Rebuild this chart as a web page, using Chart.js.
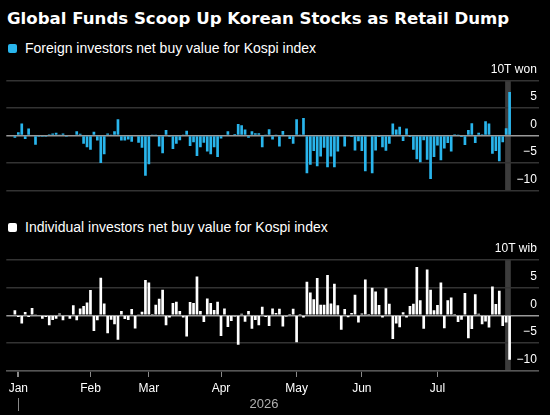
<!DOCTYPE html>
<html lang="en">
<head>
<meta charset="UTF-8">
<title>Global Funds Scoop Up Korean Stocks as Retail Dump</title>
<script src="https://cdn.jsdelivr.net/npm/chart.js@4.4.1/dist/chart.umd.min.js"></script>
<style>
    body { margin: 0; background: #000; width: 550px; height: 415px; overflow: hidden; position: relative;
           font-family: "Liberation Sans", Arial, sans-serif; color: #fff; }
    .title { position: absolute; left: 7px; top: 9px; font-family: "DejaVu Sans", sans-serif; font-weight: bold;
             font-size: 16.6px; line-height: 20px; white-space: nowrap; }
    .swatch { position: absolute; left: 8px; width: 9px; height: 9px; border-radius: 2px; }
    .legend { position: absolute; left: 25px; font-size: 14px; line-height: 16px; white-space: nowrap; }
    canvas { position: absolute; left: 0; }
</style>
</head>
<body>

<div class="title">Global Funds Scoop Up Korean Stocks as Retail Dump</div>

<div class="swatch" style="top: 44px; background: #29b5ec;"></div>
<div class="legend" style="top: 40px;">Foreign investors net buy value for Kospi index</div>
<canvas id="foreignChart" width="550" height="135" style="top: 60px;"></canvas>

<div class="swatch" style="top: 223px; background: #fff;"></div>
<div class="legend" style="top: 219px;">Individual investors net buy value for Kospi index</div>
<canvas id="individualChart" width="550" height="175" style="top: 240px;"></canvas>

<script>
    // Trading days shown on the x axis (a few empty slots before and after the data)
    const categories = [
        '2025-12-26', '2025-12-29', '2025-12-30',
        '2026-01-02', '2026-01-05', '2026-01-06', '2026-01-07', '2026-01-08', '2026-01-09', '2026-01-12',
        '2026-01-13', '2026-01-14', '2026-01-15', '2026-01-16', '2026-01-19', '2026-01-20', '2026-01-21',
        '2026-01-22', '2026-01-23', '2026-01-26', '2026-01-27', '2026-01-28', '2026-01-29', '2026-01-30',
        '2026-02-02', '2026-02-03', '2026-02-04', '2026-02-05', '2026-02-06', '2026-02-09', '2026-02-10',
        '2026-02-11', '2026-02-12', '2026-02-13', '2026-02-19', '2026-02-20', '2026-02-23', '2026-02-24',
        '2026-02-25', '2026-02-26', '2026-02-27',
        '2026-03-03', '2026-03-04', '2026-03-05', '2026-03-06', '2026-03-09', '2026-03-10', '2026-03-11',
        '2026-03-12', '2026-03-13', '2026-03-16', '2026-03-17', '2026-03-18', '2026-03-19', '2026-03-20',
        '2026-03-23', '2026-03-24', '2026-03-25', '2026-03-26', '2026-03-27', '2026-03-30', '2026-03-31',
        '2026-04-01', '2026-04-02', '2026-04-03', '2026-04-06', '2026-04-07', '2026-04-08', '2026-04-09',
        '2026-04-10', '2026-04-13', '2026-04-14', '2026-04-15', '2026-04-16', '2026-04-17', '2026-04-20',
        '2026-04-21', '2026-04-22', '2026-04-23', '2026-04-24', '2026-04-27', '2026-04-28', '2026-04-29',
        '2026-04-30',
        '2026-05-01', '2026-05-04', '2026-05-06', '2026-05-07', '2026-05-08', '2026-05-11', '2026-05-12',
        '2026-05-13', '2026-05-14', '2026-05-15', '2026-05-18', '2026-05-19', '2026-05-20', '2026-05-21',
        '2026-05-22', '2026-05-26', '2026-05-27', '2026-05-28', '2026-05-29',
        '2026-06-01', '2026-06-02', '2026-06-03', '2026-06-04', '2026-06-05', '2026-06-08', '2026-06-09',
        '2026-06-10', '2026-06-11', '2026-06-12', '2026-06-15', '2026-06-16', '2026-06-17', '2026-06-18',
        '2026-06-19', '2026-06-22', '2026-06-23', '2026-06-24', '2026-06-25', '2026-06-26', '2026-06-29',
        '2026-06-30',
        '2026-07-01', '2026-07-02', '2026-07-03', '2026-07-06', '2026-07-07', '2026-07-08', '2026-07-09',
        '2026-07-10', '2026-07-13', '2026-07-14', '2026-07-15', '2026-07-16', '2026-07-17', '2026-07-20',
        '2026-07-21', '2026-07-22', '2026-07-23', '2026-07-24', '2026-07-27', '2026-07-28', '2026-07-29',
        '2026-07-30', '2026-07-31',
        '2026-08-03', '2026-08-04', '2026-08-05', '2026-08-06', '2026-08-07', '2026-08-10', '2026-08-11'
    ];

    const monthLabels = ['Jan', 'Feb', 'Mar', 'Apr', 'May', 'Jun', 'Jul'];
    const yearLabel = '2026';

    // Net buy value per session, in trillion won
    const foreignNetBuy = [
        null, null, -0.4, 0.6, 2.2, -0.6, 1.3, -0.1, -1.65, -0.2,
        -0.2, -0.2, 0.25, 0.4, 0.5, 0.1, 0.4, -0.2, -0.1, -0.1,
        0.8, 0.35, -1.5, -2.1, -2.6, 0.7, -0.9, -5.0, -3.4, 0.4,
        0.1, 0.8, 3.0, -0.9, -0.9, -0.7, -1.1, -0.1, -1.3, -2.2,
        -7.3, -5.2, 0.2, 0.05, -2.0, -3.2, 1.0, -0.2, -2.45, -1.5,
        -0.85, 0.1, 0.9, -1.9, -1.2, -3.7, -2.1, -1.3, -2.9, -3.4,
        -2.1, -3.9, -0.55, -0.1, 0.8, -0.1, 0.3, 2.1, 1.9, 1.1,
        -0.4, 0.8, 0.45, 0.45, -2.1, 0.05, 1.15, -0.7, 0.05, -2.0,
        0.85, -0.1, -0.6, -1.5, 3.0, 0.05, 3.2, -6.85, -5.3, -2.8,
        -5.6, -3.8, -2.2, -5.75, -3.8, -5.75, -2.9, -0.1, -2.0, -0.1,
        -0.25, -2.7, -1.05, -2.8, -6.5, -0.1, -6.85, -2.7, -0.25, -2.1,
        -2.75, -1.5, 2.2, 1.1, 1.6, -1.0, 1.3, -0.25, -2.6, -4.3,
        -4.85, -0.85, -4.4, -7.9, -3.9, -1.8, -4.5, -2.35, -1.35, -2.9,
        0.25, 0.05, -0.25, -1.7, 1.0, 2.25, -1.35, 0.5, 0.25, 2.6,
        2.2, -3.3, -2.8, -4.65, -1.2, 1.35, 7.95
    ];

    const individualNetBuy = [
        null, null, 0.9, -0.3, -1.45, 0.6, -0.3, 1.3, 0.1, -0.1,
        -0.6, -0.3, -1.8, -0.85, -0.6, 0.35, -0.9, -0.1, -0.6, 1.8,
        -0.9, 1.25, 1.7, 2.3, 4.55, -2.8, -0.9, 6.75, 2.15, -3.2,
        -0.8, -1.6, -4.4, 0.8, -0.65, -0.85, 1.15, -2.35, 0.2, 0.65,
        6.35, 5.9, 0.05, 1.9, 3.0, 4.6, -1.8, -0.4, 2.2, 2.45,
        0.8, -0.4, -3.8, 2.4, 2.2, 7.0, 0.8, -1.2, 3.05, 2.2,
        0.95, 2.45, -3.7, 1.25, -2.1, -1.0, -0.2, -5.3, 0.3, -1.15,
        0.8, -2.4, -0.85, -1.8, 1.55, -0.3, -1.9, 1.25, 0.4, 1.2,
        -2.0, -0.2, 0.05, 1.2, -4.85, 0.05, -0.4, 6.05, 4.1, 2.9,
        6.7, 1.9, 1.9, 7.25, 2.15, 5.7, 1.8, -2.6, 1.15, -0.35,
        0.4, 3.7, -1.3, 0.35, 6.45, 0.05, 4.95, 4.3, 1.85, -0.4,
        4.85, 2.1, -4.25, -1.45, -2.15, 0.55, -0.4, 1.7, 2.1, 8.7,
        2.7, -2.4, 8.25, 4.6, 0.9, 1.85, 5.9, -2.3, 2.7, 3.2,
        0.05, -1.2, -0.8, 4.0, -4.1, -2.45, 3.8, 0.3, -1.6, -1.1,
        -2.2, 5.2, 2.05, 4.4, -1.9, -1.3, -8.0
    ];

    const yTickValues = [-10, -5, 0, 5, 10];

    // first trading day of each labelled month -> label
    const monthStarts = {};
    monthLabels.forEach((m, k) => {
        const prefix = yearLabel + '-' + String(k + 1).padStart(2, '0');
        monthStarts[categories.findIndex(d => d.startsWith(prefix))] = m;
    });
    const firstJan = Number(Object.keys(monthStarts)[0]);

    const BLUE = '#29b5ec';
    const GRID = '#333333';
    const ZERO = '#9a9a9a';
    const FONT = { family: '"Liberation Sans", Arial, sans-serif', size: 12 };

    function fmt(v) {
        return v < 0 ? '\u2212' + Math.abs(v) : String(v);
    }

    // grey band behind the latest session
    const lastBand = {
        id: 'lastBand',
        beforeDraw(chart) {
            const { ctx, chartArea, scales: { x } } = chart;
            const last = chart.data.datasets[0].data.length - 1;
            const step = x.getPixelForValue(1) - x.getPixelForValue(0);
            const left = x.getPixelForValue(last) - 1.3 * step;
            const right = x.getPixelForValue(last) + 0.35 * step;
            ctx.save();
            ctx.fillStyle = '#3c3c3c';
            ctx.fillRect(left, chartArea.top, right - left, chartArea.bottom - chartArea.top);
            ctx.restore();
        }
    };

    // year label under the month labels
    const yearMark = {
        id: 'yearMark',
        afterDraw(chart) {
            const { ctx, scales: { x } } = chart;
            const jan = x.getPixelForValue(firstJan);
            const end = x.getPixelForValue(individualNetBuy.length - 1);
            ctx.save();
            ctx.strokeStyle = '#888';
            ctx.lineWidth = 1;
            ctx.beginPath();
            ctx.moveTo(Math.round(jan) + 0.5, x.top + 27);
            ctx.lineTo(Math.round(jan) + 0.5, x.top + 40);
            ctx.stroke();
            ctx.fillStyle = '#b0b0b0';
            ctx.font = '13px "Liberation Sans", Arial, sans-serif';
            ctx.textAlign = 'center';
            ctx.textBaseline = 'middle';
            ctx.fillText(yearLabel, (jan + end) / 2, x.top + 33);
            ctx.restore();
        }
    };

    function panel(canvasId, values, color, unit, showX, padTop, padBottom) {
        return new Chart(document.getElementById(canvasId), {
            type: 'bar',
            data: {
                labels: categories,
                datasets: [{
                    data: values,
                    backgroundColor: color,
                    borderWidth: 0,
                    barPercentage: 0.78,
                    categoryPercentage: 1
                }]
            },
            options: {
                responsive: false,
                animation: false,
                layout: { padding: { left: 6.3, right: 11.2, top: padTop, bottom: padBottom } },
                plugins: { legend: { display: false }, tooltip: { enabled: false } },
                scales: {
                    x: {
                        display: showX,
                        grid: {
                            drawOnChartArea: false,
                            drawTicks: true,
                            tickLength: 6,
                            offset: false,
                            color: c => (c.index in monthStarts) ? '#8a8a8a' : 'transparent',
                            lineWidth: c => c.index === firstJan ? 2 : 1
                        },
                        border: { display: true, color: '#555', width: 1.5 },
                        ticks: {
                            autoSkip: false,
                            maxRotation: 0,
                            minRotation: 0,
                            padding: 4,
                            color: '#fff',
                            font: FONT,
                            callback: (v, i) => monthStarts[i] || ''
                        },
                        afterFit: s => {
                            if (!showX) return;
                            s.height = 44;
                            s.paddingLeft = 0;
                            s.paddingRight = 0;
                        }
                    },
                    y: {
                        position: 'right',
                        min: -10,
                        max: 10,
                        afterBuildTicks: s => { s.ticks = yTickValues.map(v => ({ value: v })); },
                        grid: {
                            drawTicks: false,
                            color: c => c.tick && c.tick.value === 0 ? ZERO : GRID,
                            lineWidth: 1.5
                        },
                        border: { display: false },
                        ticks: {
                            mirror: true,
                            padding: -2,
                            labelOffset: -11,
                            color: '#fff',
                            font: FONT,
                            callback: v => v === 10 ? '10T ' + unit : fmt(v)
                        },
                        afterFit: s => { s.width = 0; s.paddingTop = 0; s.paddingBottom = 0; }
                    }
                }
            },
            plugins: showX ? [lastBand, yearMark] : [lastBand]
        });
    }

    panel('foreignChart', foreignNetBuy, BLUE, 'won', false, 20.7, 4.5);
    panel('individualChart', individualNetBuy, '#ffffff', 'wib', true, 19.7, 0);
</script>

</body>
</html>
